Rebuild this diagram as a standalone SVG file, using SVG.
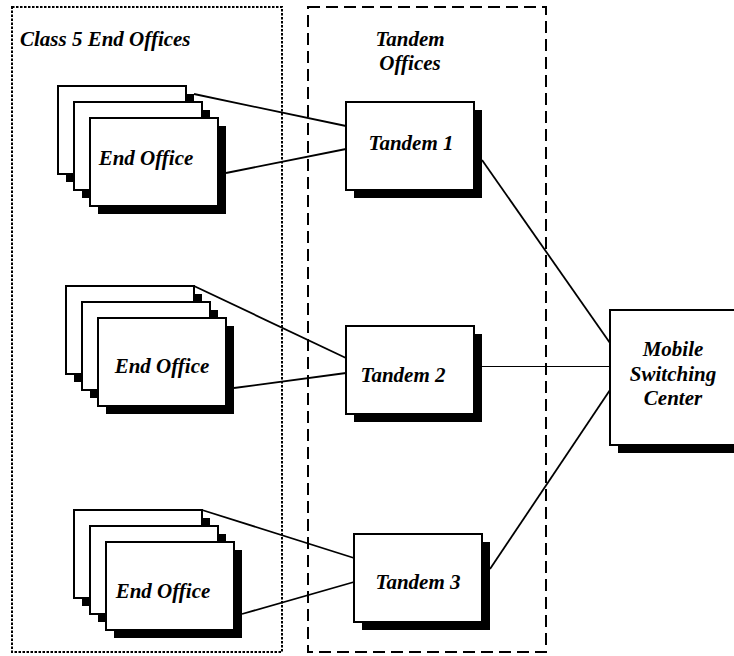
<svg xmlns="http://www.w3.org/2000/svg" width="734" height="656" viewBox="0 0 734 656">
  <style>
    .lbl { font-family: "Liberation Serif", "Times New Roman", serif; font-weight: bold; font-style: italic; font-size: 21px; fill: #000; }
    .mid { text-anchor: middle; }
    .box { fill: #fff; stroke: #000; stroke-width: 2; }
    .shadow { fill: #000; stroke: none; }
    .wire { fill: none; stroke: #000; stroke-width: 1.8; }
    .thin { fill: none; stroke: #000; stroke-width: 1; }
    .dotted { fill: none; stroke: #000; stroke-width: 2; stroke-dasharray: 2.5 1.5; }
    .dashed { fill: none; stroke: #000; stroke-width: 2; stroke-dasharray: 12 6; }
  </style>
  <defs>
    <!-- one drop-shadowed box, 128 x 88 -->
    <g id="sbox">
      <rect class="shadow" x="8" y="8" width="128" height="88"/>
      <rect class="box" x="0" y="0" width="128" height="88"/>
    </g>
  </defs>

  <rect width="734" height="656" fill="#fff"/>

  <!-- grouping regions -->
  <g id="region-end-offices">
    <rect class="dotted" x="12" y="7" width="270" height="645"/>
    <text class="lbl" x="20" y="46">Class 5 End Offices</text>
  </g>
  <g id="region-tandem-offices">
    <rect class="dashed" x="308" y="7" width="238" height="645"/>
    <text class="lbl mid" x="410" y="46">Tandem</text>
    <text class="lbl mid" x="410" y="70">Offices</text>
  </g>

  <!-- connectors -->
  <g id="connectors">
    <line class="wire" x1="194" y1="94" x2="346" y2="126"/>
    <line class="wire" x1="226" y1="173" x2="346" y2="149"/>
    <line class="wire" x1="194" y1="286" x2="346" y2="358"/>
    <line class="wire" x1="234" y1="388" x2="346" y2="373"/>
    <line class="wire" x1="202" y1="510" x2="354" y2="558"/>
    <line class="wire" x1="242" y1="614" x2="354" y2="582"/>
    <line class="wire" x1="482" y1="160" x2="610" y2="343"/>
    <line class="thin" x1="482" y1="366.5" x2="610" y2="366.5"/>
    <line class="wire" x1="490" y1="569" x2="610" y2="390"/>
  </g>

  <!-- end office stacks -->
  <g id="end-office-1">
    <use href="#sbox" x="58" y="86"/>
    <use href="#sbox" x="74" y="102"/>
    <use href="#sbox" x="90" y="118"/>
    <text class="lbl mid" x="146" y="165">End Office</text>
  </g>
  <g id="end-office-2">
    <use href="#sbox" x="66" y="286"/>
    <use href="#sbox" x="82" y="302"/>
    <use href="#sbox" x="98" y="318"/>
    <text class="lbl mid" x="162" y="373">End Office</text>
  </g>
  <g id="end-office-3">
    <use href="#sbox" x="74" y="510"/>
    <use href="#sbox" x="90" y="526"/>
    <use href="#sbox" x="106" y="542"/>
    <text class="lbl mid" x="163" y="598">End Office</text>
  </g>

  <!-- tandem switches -->
  <g id="tandem-1">
    <use href="#sbox" x="346" y="102"/>
    <text class="lbl mid" x="411" y="150">Tandem 1</text>
  </g>
  <g id="tandem-2">
    <use href="#sbox" x="346" y="326"/>
    <text class="lbl mid" x="403" y="382">Tandem 2</text>
  </g>
  <g id="tandem-3">
    <use href="#sbox" x="354" y="534"/>
    <text class="lbl mid" x="418" y="589">Tandem 3</text>
  </g>

  <!-- mobile switching center -->
  <g id="msc">
    <rect class="shadow" x="618" y="318" width="128" height="135"/>
    <rect class="box" x="610" y="310" width="128" height="135"/>
    <text class="lbl mid" x="673" y="356">Mobile</text>
    <text class="lbl mid" x="673" y="381">Switching</text>
    <text class="lbl mid" x="673" y="405">Center</text>
  </g>
</svg>
